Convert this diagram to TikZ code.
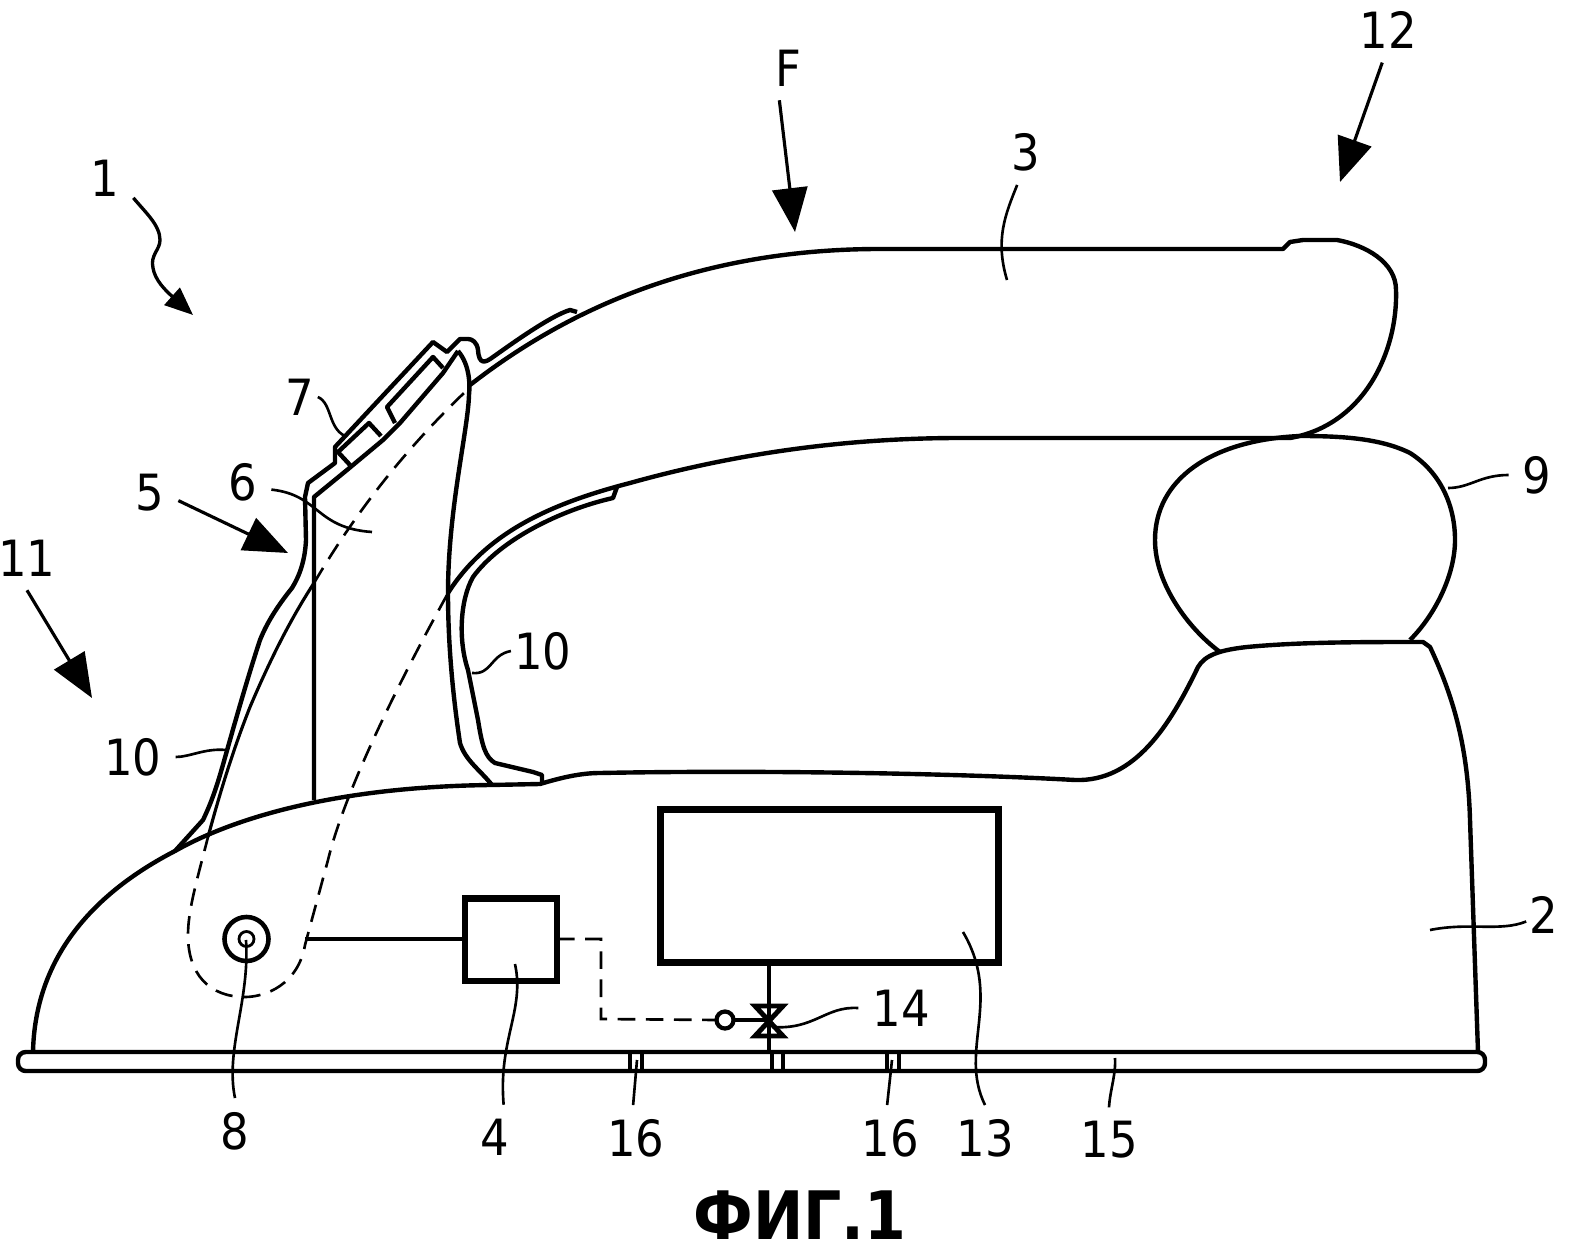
\documentclass[tikz,border=0pt]{standalone}
\usepackage{fontspec}
\setmainfont{DejaVu Sans Condensed}
\usetikzlibrary{arrows.meta}
\usetikzlibrary{calc}
\tikzset{
  part/.style={line width=1.25pt, line join=round},
  thinpart/.style={line width=0.9pt},
  hidden/.style={line width=0.75pt, dash pattern=on 5pt off 3pt},
  leader/.style={line width=0.75pt},
  boxpart/.style={draw, line width=1.9pt, inner sep=0pt, outer sep=0pt, anchor=north west},
  ringpart/.style={circle, draw, inner sep=0pt, outer sep=0pt},
  lab/.style={inner sep=1pt, outer sep=3pt, font=\fontsize{14.2}{16}\selectfont},
  tight/.style={inner sep=0pt, outer sep=1pt},
  bigarrow/.style={line width=0.9pt, -{Triangle[length=12.5pt,width=10pt]}},
}
\begin{document}
\begin{tikzpicture}[x=0.01cm,y=-0.01cm]
        \useasboundingbox (0,0) rectangle (1570,1252);
        % labels
        \node[lab] (l1) at (105,178) {1};
        \node[lab] (l12) at (1388,30) {12};
        \node[lab] (lF) at (788,68) {F};
        \node[lab] (l3) at (1026,152) {3};
        \node[lab, tight] (l7) at (300,397) {7};
        \node[lab] (l6) at (243,482) {6};
        \node[lab] (l5) at (150,493) {5};
        \node[lab] (l11) at (27,558) {11};
        \node[lab, tight] (l10a) at (543,651) {10};
        \node[lab] (l10b) at (133,757) {10};
        \node[lab] (l9) at (1537,475) {9};
        \node[lab, tight] (l2) at (1544,915) {2};
        \node[lab] (l14) at (901,1008) {14};
        \node[lab] (l8) at (235,1131) {8};
        \node[lab] (l4) at (495,1137) {4};
        \node[lab] (l16a) at (636,1138) {16};
        \node[lab] (l16b) at (890,1138) {16};
        \node[lab] (l13) at (985,1138) {13};
        \node[lab] (l15) at (1109,1140) {15};
        \node[font=\fontsize{19}{22}\selectfont\bfseries] (fig) at (800,1215) {ФИГ.1};

        % boxes and pivot
        \node[boxpart, minimum width=0.92cm, minimum height=0.825cm] (ctrl) at (465,898.5) {};
        \node[boxpart, minimum width=3.38cm, minimum height=1.53cm] (tank) at (660.5,809.5) {};
        \node[ringpart, line width=1.3pt, minimum size=0.44cm] (pivot) at (246.5,939) {};
        \node[ringpart, line width=0.8pt, minimum size=0.15cm] (pin) at (246.5,939) {};
        \node[ringpart, line width=1.2pt, minimum size=0.17cm, fill=white] (sensor) at (725,1020) {};
        \coordinate (valve) at (769,1020);
        \coordinate (arm) at (305,939);

        % soleplate
        \draw[part, rounded corners=2.2pt] (18,1052) rectangle (1485,1071);
        \foreach \x in {630,642,772,783,887,899}
          \draw[part] (\x,1052) -- (\x,1071);

        % housing
        \draw[part] (33,1052) .. controls (35,960) and (90,895) .. (175,851) .. controls (230,820) and (330,787) .. (490,785) -- (540,784) .. controls (560,778) and (580,773) .. (600,773) .. controls (750,770) and (950,773) .. (1075,780) .. controls (1135,782) and (1170,725) .. (1198,667) .. controls (1205,655) and (1220,650) .. (1247,647) .. controls (1300,642) and (1360,642) .. (1423,642) -- (1430,647) .. controls (1455,700) and (1468,750) .. (1470,820) -- (1478,1052);

        % handle
        \draw[part] (470,385) .. controls (560,315) and (690,249) .. (880,249) -- (1283,249) -- (1290,242) -- (1303,240) -- (1337,240) .. controls (1365,245) and (1396,262) .. (1396,290) .. controls (1398,350) and (1365,425) .. (1290,438) -- (960,438) .. controls (840,438) and (730,455) .. (630,483) .. controls (545,505) and (485,535) .. (448,593);

        % knob
        \draw[part] (1300,436) .. controls (1210,440) and (1155,480) .. (1155,540) .. controls (1155,585) and (1190,630) .. (1220,652);
        \draw[part] (1300,436) .. controls (1340,436) and (1380,438) .. (1410,453) .. controls (1440,472) and (1455,505) .. (1455,540) .. controls (1455,575) and (1435,615) .. (1410,640);

        % grip strips
        \draw[part] (617,487) -- (613,498) .. controls (560,510) and (500,540) .. (473,577) .. controls (460,600) and (458,640) .. (468,670) -- (478,720) .. controls (482,745) and (485,757) .. (495,763) -- (533,772) -- (542,775) -- (542,783);
        \draw[part] (448,593) .. controls (448,640) and (452,690) .. (460,743) .. controls (465,760) and (480,770) .. (492,785);

        % front wall
        \draw[part] (458,351) .. controls (470,365) and (470,385) .. (469,395) .. controls (468,430) and (448,510) .. (448,593);
        \draw[part] (314,800) -- (314,497) -- (347,470) -- (383,440) -- (400,423) -- (443,373) -- (458,351);
        \draw[part] (577,312) -- (570,310) .. controls (550,316) and (510,345) .. (493,357) .. controls (485,363) and (479,365) .. (478,350) .. controls (477,342) and (472,339) .. (468,339) -- (460,339) -- (447,352) -- (433,342) -- (335,447) -- (335,463) -- (308,483) -- (305,497) -- (306,540) .. controls (305,560) and (300,575) .. (292,588) .. controls (280,603) and (268,620) .. (260,640) .. controls (250,670) and (237,715) .. (228,747) .. controls (220,775) and (215,795) .. (203,820) -- (175,851);
        \draw[thinpart] (208,837) .. controls (222,785) and (235,745) .. (250,707) .. controls (270,660) and (290,620) .. (314,583);

        % button
        \draw[part] (350,465) -- (338,452) -- (369,423) -- (381,436);
        \draw[part] (395,423) -- (387,407) -- (433,357) -- (443,368);

        % hidden lines
        \draw[hidden] (314,583) .. controls (360,505) and (410,445) .. (465,392);
        \draw[hidden] (447,595) .. controls (400,680) and (345,790) .. (328,860) -- (305,945) .. controls (298,985) and (265,997) .. (245,997) .. controls (210,997) and (188,975) .. (188,935) .. controls (188,910) and (197,880) .. (208,837);

        % connections
        \draw[part] (arm) -- (ctrl.west |- arm);
        \draw[hidden] (ctrl.east |- arm) -- (601,939) -- (601,1019) -- (sensor.west);
        \draw[part] (sensor) -- (valve);
        \draw[part] (tank.south -| valve) -- (769,1052);
        \draw[line width=1.4pt, line join=miter] (755,1006) -- (783,1006) -- (755,1036) -- (783,1036) -- cycle;

        % arrows
        \coordinate (tipF) at (795,232);
        \coordinate (tip12) at (1340,182);
        \coordinate (tip5) at (288,553);
        \coordinate (tip11) at (92,698);
        \coordinate (tip1) at (193,315);
        \draw[bigarrow] (lF.255) -- (tipF);
        \draw[bigarrow] (l12.260) -- (tip12);
        \draw[bigarrow] (l5.-15) -- (tip5);
        \draw[bigarrow] (l11.south) -- (tip11);
        \draw[line width=0.95pt, -{Triangle[length=8pt,width=6.5pt]}] (l1.-35) .. controls (145,212) and (160,225) .. (160,240) .. controls (160,250) and (150,255) .. (153,268) .. controls (155,280) and (165,290) .. (tip1);

        % leaders
        \coordinate (c3) at (1007,280);
        \coordinate (c6) at (372,532);
        \coordinate (c7) at (345,436);
        \coordinate (c9) at (1448,488);
        \coordinate (c10a) at (472,673);
        \coordinate (c10b) at (226,750);
        \coordinate (c2) at (1430,930);
        \coordinate (c14) at (772,1027);
        \coordinate (c8) at (246,940);
        \coordinate (c4) at (515,964);
        \coordinate (c16a) at (637,1060);
        \coordinate (c16b) at (892,1060);
        \coordinate (c13) at (963,932);
        \coordinate (c15) at (1115,1058);
        \draw[leader] (l3.255) .. controls (1005,215) and (995,240) .. (c3);
        \draw[leader] (l6.-15) .. controls (320,495) and (315,528) .. (c6);
        \draw[leader] (l7.east) .. controls (332,403) and (328,428) .. (c7);
        \draw[leader] (l9.west) .. controls (1480,475) and (1470,488) .. (c9);
        \draw[leader] (l10a.west) .. controls (490,655) and (492,675) .. (c10a);
        \draw[leader] (l10b.east) .. controls (190,757) and (205,748) .. (c10b);
        \draw[leader] (l2.200) .. controls (1500,932) and (1470,922) .. (c2);
        \draw[leader] (l14.west) .. controls (825,1006) and (815,1030) .. (c14);
        \draw[leader] (c8) .. controls (250,1000) and (225,1050) .. (l8.north);
        \draw[leader] (c4) .. controls (525,1010) and (498,1040) .. (l4.75);
        \draw[leader] (c16a) -- (l16a.95);
        \draw[leader] (c16b) -- (l16b.95);
        \draw[leader] (c13) .. controls (1003,1000) and (958,1050) .. (l13.north);
        \draw[leader] (c15) .. controls (1116,1075) and (1110,1090) .. (l15.north);
    \end{tikzpicture}
\end{document}
